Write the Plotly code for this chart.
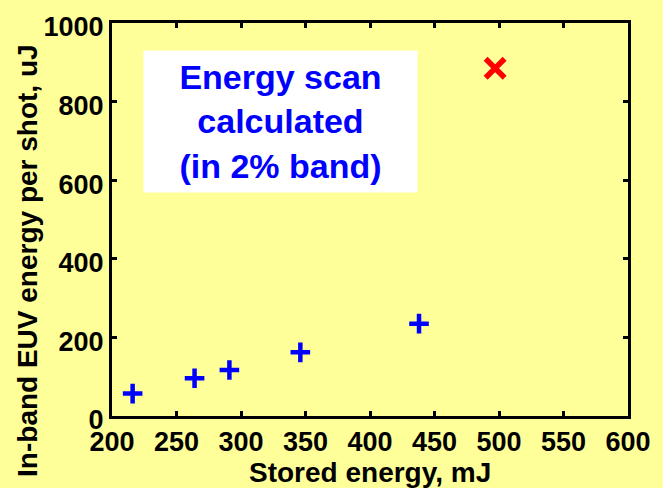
import plotly.graph_objects as go

# Data
stored_energy = [216, 264, 291, 346, 438]
euv_energy = [57, 96, 117, 162, 235]
calc_energy_x = [497]
calc_energy_y = [885]

x_ticks = [200, 250, 300, 350, 400, 450, 500, 550, 600]
y_ticks = [0, 200, 400, 600, 800, 1000]

BG = "#FFFF99"
FONT = "Liberation Sans, Arial, sans-serif"

fig = go.Figure()
fig.add_trace(go.Scatter(
    x=stored_energy, y=euv_energy, mode="markers",
    marker=dict(symbol="cross-thin", size=14, line=dict(color="#0000FF", width=4.5)),
    showlegend=False, cliponaxis=False))
fig.add_trace(go.Scatter(
    x=calc_energy_x, y=calc_energy_y, mode="markers",
    marker=dict(symbol="x-thin", size=19, line=dict(color="#FF0000", width=5.5)),
    showlegend=False, cliponaxis=False))

axis_common = dict(
    showgrid=False, zeroline=False, showline=True, linecolor="black", linewidth=3,
    mirror="ticks", ticks="inside", ticklen=5, tickwidth=2.5, tickcolor="black",
)

fig.update_xaxes(range=[200, 600], tickvals=x_ticks,
                 ticktext=["<b>%d</b>" % v for v in x_ticks],
                 tickfont=dict(family=FONT, size=27, color="black"),
                 **axis_common)
fig.update_yaxes(range=[0, 1000], tickvals=y_ticks,
                 ticktext=["<b>%d</b>" % v for v in y_ticks],
                 tickfont=dict(family=FONT, size=27, color="black"),
                 ticklabelshift=4,
                 **axis_common)

fig.add_annotation(
    text="<b>In-band EUV energy per shot, uJ</b>", textangle=-90,
    xref="paper", yref="paper", x=(27 - 112) / 520, y=(416 - 257.5) / 400,
    xanchor="center", yanchor="middle", showarrow=False,
    font=dict(family=FONT, size=28, color="black"))
fig.add_annotation(
    text="<b>Stored energy, mJ</b>",
    xref="paper", yref="paper", x=0.5, y=(416 - 473) / 400,
    xanchor="center", yanchor="middle", showarrow=False,
    font=dict(family=FONT, size=28, color="black"))
fig.add_annotation(
    text="<b>Energy scan<br>calculated<br>(in 2% band)</b>",
    xref="paper", yref="paper", x=(281.5 - 112) / 520, y=(416 - 116.5) / 400,
    xanchor="center", yanchor="middle", showarrow=False,
    width=271, height=139, bgcolor="white", borderpad=1, align="center",
    font=dict(family=FONT, size=34, color="#0000FF"))

fig.update_layout(
    width=663, height=488, autosize=False,
    margin=dict(l=112, r=31, t=16, b=72, pad=0),
    paper_bgcolor=BG, plot_bgcolor=BG,
)

fig.write_html("out.html")
